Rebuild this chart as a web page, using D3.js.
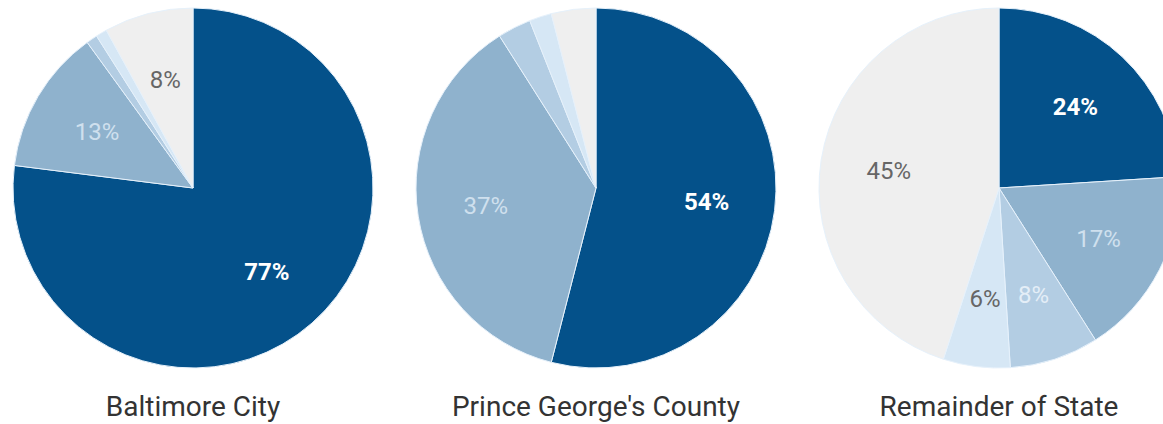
<!DOCTYPE html>
<html>
<head>
<meta charset="utf-8">
<script src="https://cdn.jsdelivr.net/npm/d3@7"></script>
<style>
  body { margin: 0; background: #fff; }
  svg { display: block; }
</style>
</head>
<body>
<div class="chart"></div>
<script>
// categories, in slice order (clockwise from 12 o'clock)
const categories = ['Cat 1', 'Cat 2', 'Cat 3', 'Cat 4', 'Cat 5'];

const regions = ['Baltimore City', "Prince George's County", 'Remainder of State'];

// percent shares per region
const baltimoreValues = [77, 13, 1, 1, 8];
const princeGeorgesValues = [54, 37, 3, 2, 4];
const remainderValues = [24, 17, 8, 6, 45];

// which slices get a printed label
const baltimoreLabels = [true, true, false, false, true];
const princeGeorgesLabels = [true, true, false, false, false];
const remainderLabels = [true, true, true, true, true];

const seriesValues = [baltimoreValues, princeGeorgesValues, remainderValues];
const seriesLabels = [baltimoreLabels, princeGeorgesLabels, remainderLabels];

const colors = d3.scaleOrdinal()
  .domain(categories)
  .range(['#04518a', '#8fb2cd', '#b3cde3', '#d6e7f5', '#efefef']);

const labelColors = d3.scaleOrdinal()
  .domain(categories)
  .range(['#ffffff', '#cfe0ee', '#e4eef7', '#666666', '#666666']);

const chartWidth = 1163;
const chartHeight = 424;
const radius = 180;
const centerY = 188;

const centers = d3.scalePoint()
  .domain(regions)
  .range([193, 999]);

const svg = d3.select('.chart')
  .append('svg')
  .attr('width', chartWidth)
  .attr('height', chartHeight);

const pie = d3.pie()
  .value(d => d.value)
  .sort(null);

const arc = d3.arc()
  .innerRadius(0)
  .outerRadius(radius);

const labelArc = d3.arc()
  .innerRadius(radius * 0.62)
  .outerRadius(radius * 0.62);

regions.forEach((region, r) => {
  const data = categories.map((c, i) => ({
    category: c,
    value: seriesValues[r][i],
    show: seriesLabels[r][i]
  }));

  const g = svg.append('g')
    .attr('transform', `translate(${centers(region)}, ${centerY})`);

  const slices = pie(data);

  g.selectAll('path')
    .data(slices)
    .enter()
    .append('path')
    .attr('d', arc)
    .attr('fill', d => colors(d.data.category))
    .attr('stroke', '#e6f1fb')
    .attr('stroke-width', 1);

  g.selectAll('text')
    .data(slices.filter(d => d.data.show))
    .enter()
    .append('text')
    .attr('transform', d => `translate(${labelArc.centroid(d)})`)
    .attr('text-anchor', 'middle')
    .attr('dy', '0.35em')
    .attr('font-family', 'Roboto, sans-serif')
    .attr('font-size', '24px')
    .attr('font-weight', d => d.data.category === categories[0] ? 700 : 400)
    .attr('fill', d => labelColors(d.data.category))
    .text(d => `${d.data.value}%`);

  svg.append('text')
    .attr('x', centers(region))
    .attr('y', 416)
    .attr('text-anchor', 'middle')
    .attr('font-family', 'Roboto, sans-serif')
    .attr('font-size', '28px')
    .attr('fill', '#333333')
    .text(region);
});
</script>
</body>
</html>
